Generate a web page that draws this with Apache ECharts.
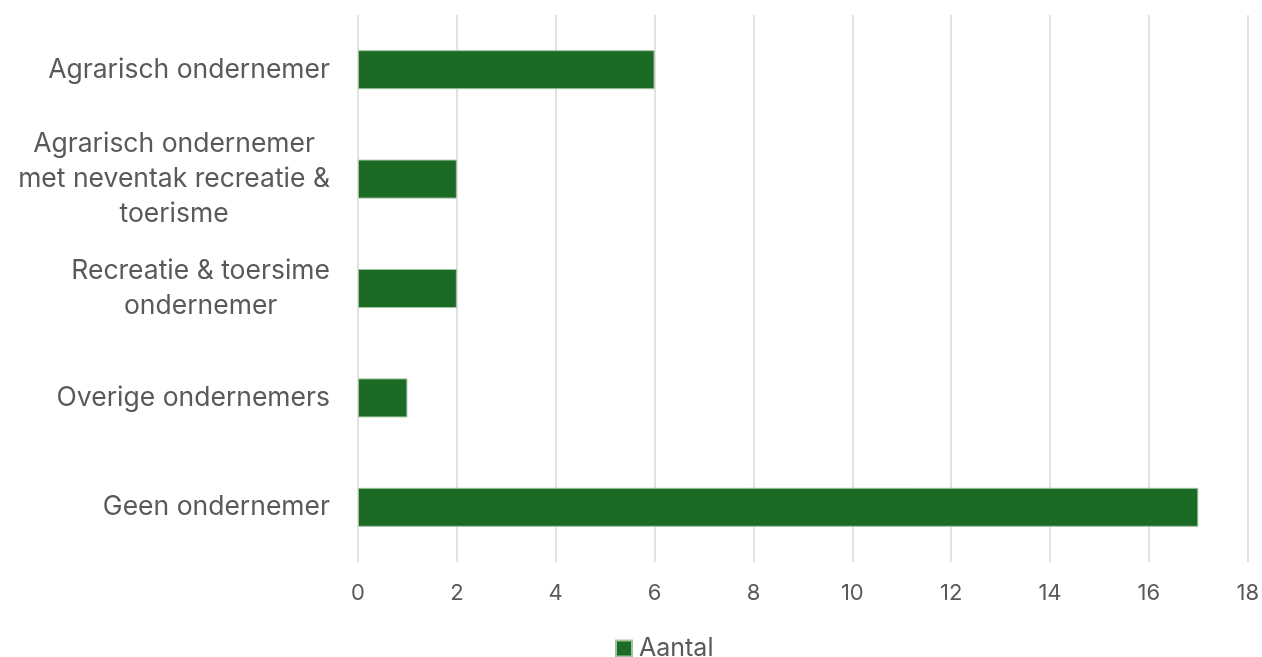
<!DOCTYPE html>
<html>
<head>
<meta charset="utf-8">
<script src="https://cdn.jsdelivr.net/npm/echarts@6/dist/echarts.min.js"></script>
<style>html,body{margin:0;padding:0;background:#fff}#c{width:1262px;height:657px}</style>
</head>
<body>
<div id="c"></div>
<script>
const categories = [
  "Agrarisch ondernemer",
  "Agrarisch ondernemer\nmet neventak recreatie &\ntoerisme",
  "Recreatie & toersime\nondernemer",
  "Overige ondernemers",
  "Geen ondernemer"
];
const values = [6, 2, 2, 1, 17];
const seriesName = "Aantal";
const xTicks = { min: 0, max: 18, interval: 2 };

const chart = echarts.init(document.getElementById('c'));
const font = 'Inter, sans-serif';
chart.setOption({
  animation: false,
  textStyle: { fontFamily: font },
  grid: { left: 358, right: 14, top: 15, bottom: 95, containLabel: false },
  legend: {
    top: 631, left: 610,
    itemWidth: 16, itemHeight: 16, itemGap: 10,
    icon: 'rect',
    textStyle: { fontSize: 25, color: '#595959', fontFamily: font, padding: [0, 0, 0, 2] },
    data: [seriesName]
  },
  xAxis: {
    type: 'value', min: xTicks.min, max: xTicks.max, interval: xTicks.interval,
    axisLine: { show: false }, axisTick: { show: false },
    splitLine: { lineStyle: { color: '#d9d9d9', width: 1.5 } },
    axisLabel: { fontSize: 22, color: '#595959', margin: 20, fontFamily: font }
  },
  yAxis: {
    type: 'category', data: categories, inverse: true,
    axisLine: { show: false }, axisTick: { show: false },
    axisLabel: {
      margin: 28, align: 'right',
      formatter: v => v.split('\n').map(l => '{c|' + l + '}').join('\n'),
      rich: { c: { align: 'center', fontSize: 26.5, lineHeight: 35, color: '#595959', fontFamily: font } }
    }
  },
  series: [{
    name: seriesName, type: 'bar', data: values, barWidth: 39,
    itemStyle: { color: '#1b6b25', borderColor: '#9fc39f', borderWidth: 1 }
  }]
});
</script>
</body>
</html>
